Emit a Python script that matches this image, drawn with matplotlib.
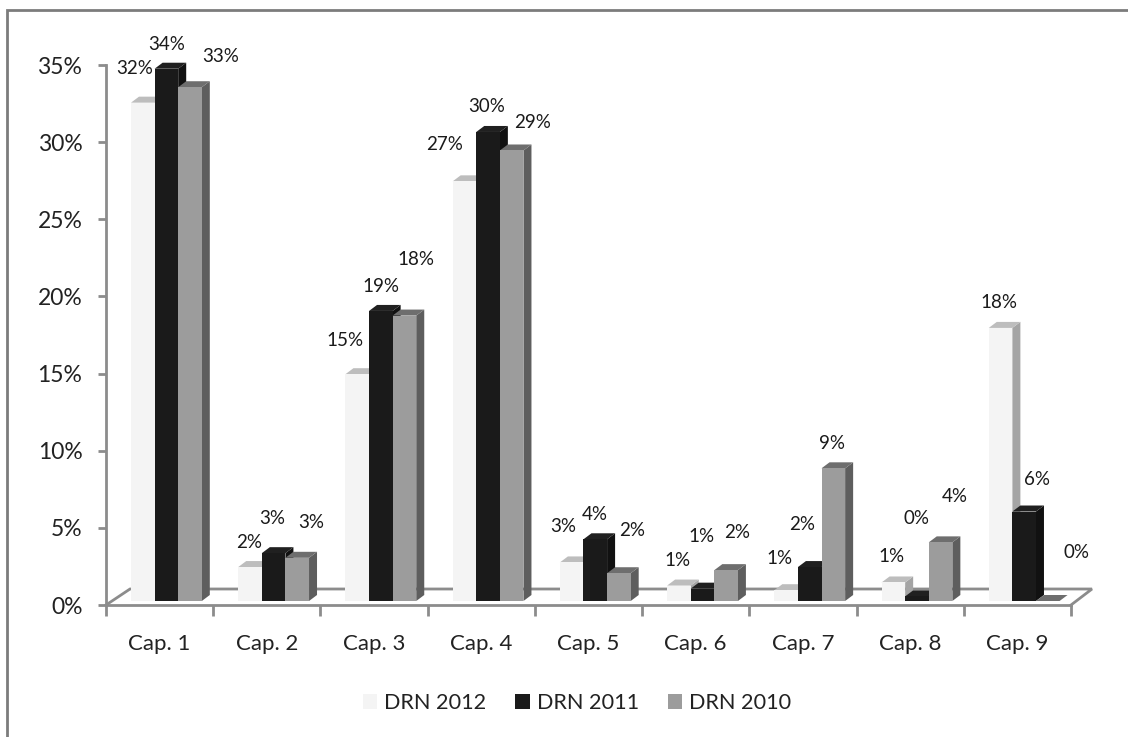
import matplotlib
matplotlib.use("Agg")
import matplotlib.pyplot as plt
from matplotlib.lines import Line2D
from matplotlib.patches import Polygon

plt.rcParams['font.family'] = ['Lato', 'DejaVu Sans']

# Values
categories = ["Cap. 1", "Cap. 2", "Cap. 3", "Cap. 4", "Cap. 5", "Cap. 6", "Cap. 7", "Cap. 8", "Cap. 9"]
drn_2012 = [32.3, 2.2, 14.7, 27.2, 2.5, 1.0, 0.7, 1.2, 17.7]
drn_2011 = [34.5, 3.1, 18.8, 30.4, 4.0, 0.8, 2.2, 0.3, 5.8]
drn_2010 = [33.3, 2.8, 18.5, 29.2, 1.8, 2.0, 8.6, 3.8, 0.0]
labels_2012 = ["32%", "2%", "15%", "27%", "3%", "1%", "1%", "1%", "18%"]
labels_2011 = ["34%", "3%", "19%", "30%", "4%", "1%", "2%", "0%", "6%"]
labels_2010 = ["33%", "3%", "18%", "29%", "2%", "2%", "9%", "4%", "0%"]
y_ticks = [0, 5, 10, 15, 20, 25, 30, 35]

# Label centres in image pixels, the original placed them by hand
label_pos_2012 = [(135, 68), (249, 542), (345, 341), (445, 145), (563, 527), (677, 560), (779, 559), (892, 557), (999, 303)]
label_pos_2011 = [(167, 45), (272, 519), (381, 286), (487, 106), (595, 515), (702, 536), (802, 525), (916, 518), (1037, 479)]
label_pos_2010 = [(221, 56), (311, 523), (416, 260), (533, 122), (632, 531), (737, 533), (832, 443), (955, 496), (1077, 553)]

W, H = 1128, 737
fig = plt.figure(figsize=(W / 100, H / 100), dpi=100, facecolor="white")

# Chart border, only the top and left sides show in the crop
fig.add_artist(Line2D([7 / W, 7 / W, 1], [0, 1 - 10 / H, 1 - 10 / H], transform=fig.transFigure,
                      color="#7c7c7c", linewidth=2, solid_joinstyle="miter"))

left, right, top, bottom = 106, 1071, 65, 605
ax = fig.add_axes([left / W, 1 - bottom / H, (right - left) / W, (bottom - top) / H])
ax.set_xlim(0, 9)
ax.set_ylim(0, 35)
ax.patch.set_visible(False)

px_x = 9 / (right - left)
px_y = 35 / (bottom - top)
dx, dy = 8 * px_x, 6 * px_y
base = 4 * px_y
bar_w = 23.6 * px_x
start = 25 * px_x

series = [
    (drn_2012, "DRN 2012", "#f4f4f4", "#a4a4a4", "#bdbdbd"),
    (drn_2011, "DRN 2011", "#1a1a1a", "#111111", "#202020"),
    (drn_2010, "DRN 2010", "#9c9c9c", "#5e5e5e", "#6e6e6e"),
]

# Floor of the 3D box
floor_x, floor_y = 24 * px_x, 16 * px_y
ax.plot([0, floor_x, 9 + 21 * px_x, 9], [0, floor_y, floor_y, 0], color="#8c8c8c", lw=2,
        clip_on=False, zorder=1, solid_joinstyle="miter")

handles = []
for s, (values, name, front, side, cap) in enumerate(series):
    xs = [i + start + s * bar_w for i in range(len(values))]
    bars = ax.bar(xs, values, width=bar_w, bottom=base, align="edge", color=front, linewidth=0,
                  zorder=3 + s * 3, clip_on=False, label=name)
    handles.append(bars)
    for x, v in zip(xs, values):
        x1 = x + bar_w
        y0, y1 = base, base + v
        ax.add_patch(Polygon([(x1, y0), (x1 + dx, y0 + dy), (x1 + dx, y1 + dy), (x1, y1)],
                             facecolor=side, edgecolor="none", zorder=2 + s * 3, clip_on=False))
        ax.add_patch(Polygon([(x, y1), (x + dx, y1 + dy), (x1 + dx, y1 + dy), (x1, y1)],
                             facecolor=cap, edgecolor="none", zorder=2 + s * 3, clip_on=False))

for texts, positions in [(labels_2012, label_pos_2012), (labels_2011, label_pos_2011), (labels_2010, label_pos_2010)]:
    for t, (lx, ly) in zip(texts, positions):
        fig.text(lx / W, 1 - ly / H, t, ha="center", va="center", fontsize=13.5, color="#1a1a1a", zorder=20)

# Axes
for name in ["top", "right"]:
    ax.spines[name].set_visible(False)
for name in ["left", "bottom"]:
    ax.spines[name].set_color("#8c8c8c")
    ax.spines[name].set_linewidth(2)
    ax.spines[name].set_zorder(12)
ax.set_yticks(y_ticks)
ax.set_yticklabels([f"{v}%" for v in y_ticks])
ax.set_xticks(range(10))
ax.set_xticklabels([])
ax.set_xticks([i + 0.5 for i in range(9)], minor=True)
ax.set_xticklabels(categories, minor=True)
ax.tick_params(axis="y", length=6, width=2, color="#8c8c8c", labelsize=16.5, labelcolor="#222222", pad=11)
ax.tick_params(axis="x", which="major", length=8, width=2, color="#8c8c8c")
ax.tick_params(axis="x", which="minor", length=0, labelsize=16, labelcolor="#222222", pad=21)

fig.legend(handles=handles, loc="center", bbox_to_anchor=(577 / W, 1 - 703 / H), ncol=3, frameon=False,
           fontsize=15.6, labelcolor="#222222", handlelength=0.65, handleheight=0.65,
           handletextpad=0.32, columnspacing=1.34)

fig.savefig("out.png", dpi=100)
